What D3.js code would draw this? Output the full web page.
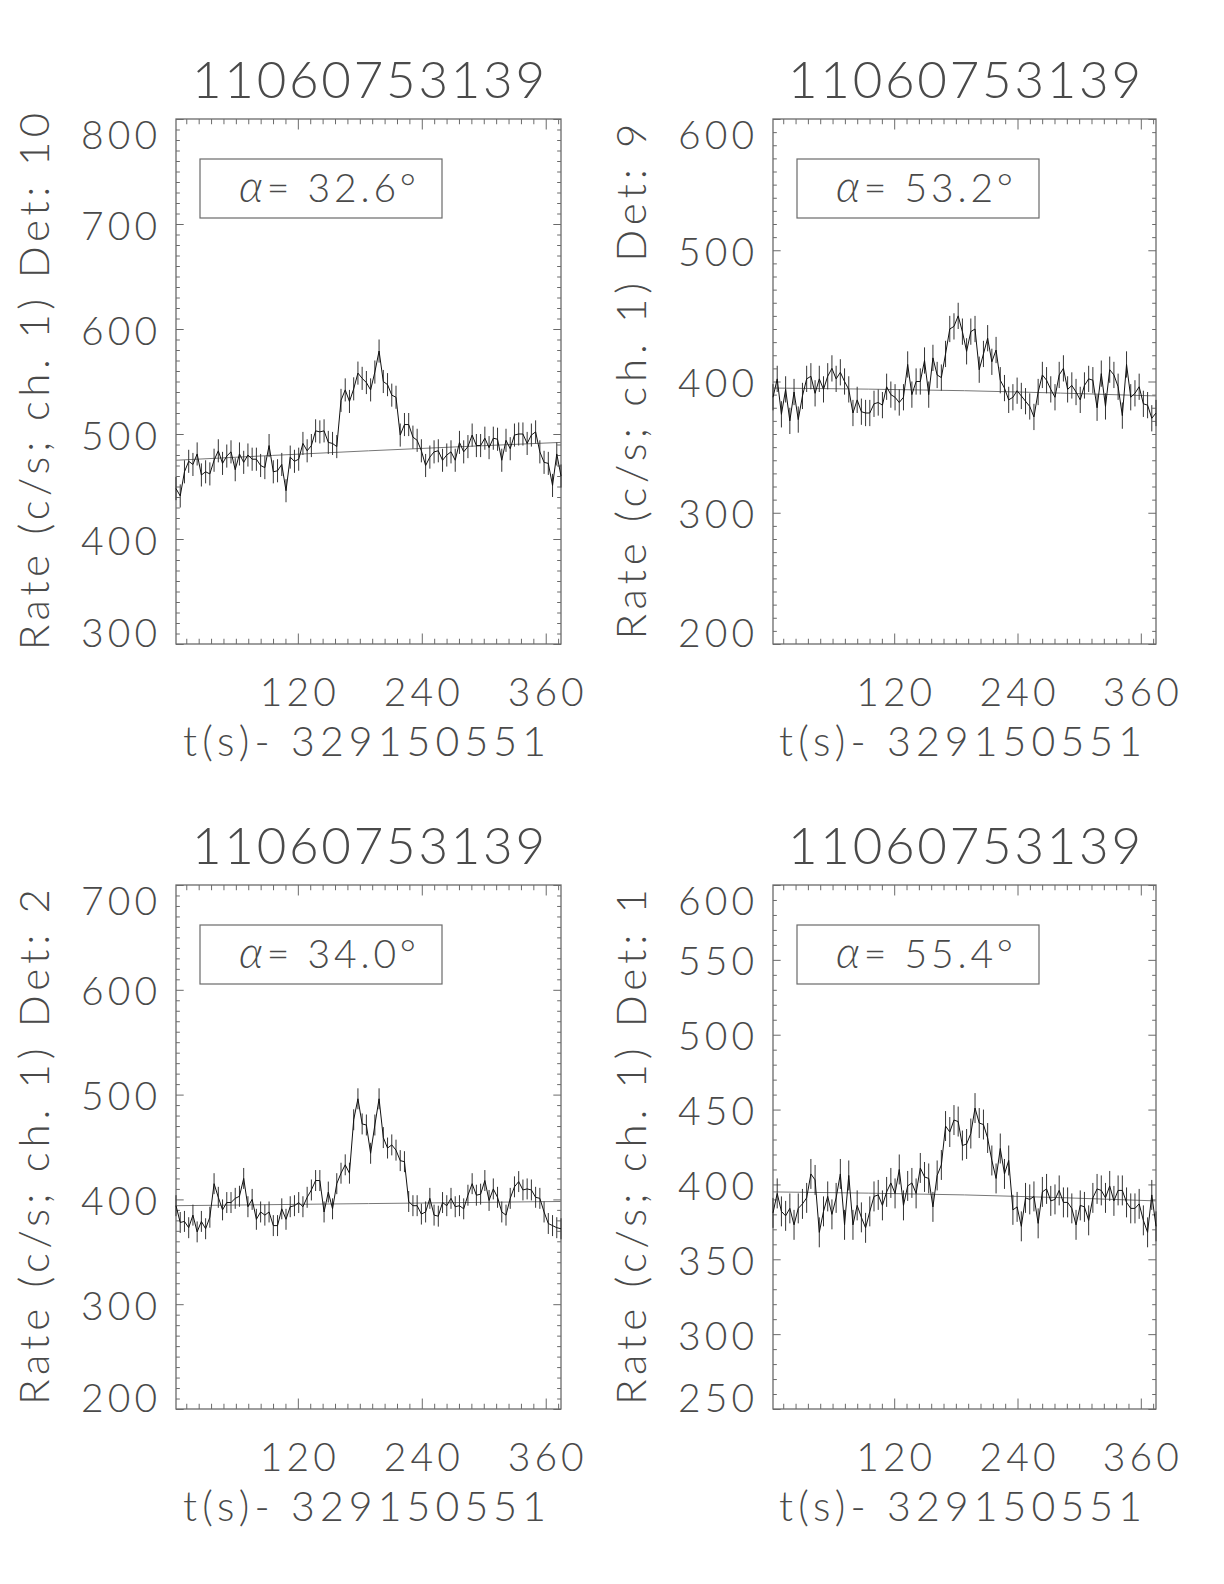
<!DOCTYPE html>
<html><head><meta charset="utf-8">
<script src="https://cdn.jsdelivr.net/npm/d3@7"></script>
<style>
body{margin:0;background:#fff}
svg{display:block}
text{font-family:Lato,"Open Sans","DejaVu Sans",sans-serif;font-weight:300;fill:#4a4a4a}
</style>
</head><body>
<svg id="chart" width="1224" height="1584"></svg>
<script>
// ---------------- data ----------------
const triggerName = "11060753139";
const timeOffset = "329150551";
const detectors = ["10", "9", "2", "1"];
const alphas = ["32.6", "53.2", "34.0", "55.4"];
const binStart = 2.048;      // centre of first 4.096 s bin
const binWidth = 4.096;

const rateDet10 = [448,441,464,474,471,481,461,464,462,475,
  484,472,479,483,466,481,473,480,476,476,
  470,468,489,464,465,471,446,478,474,476,
  491,484,489,503,502,503,492,491,488,532,
  542,531,543,558,553,549,542,559,579,550,
  547,537,535,499,509,509,497,494,484,470,
  478,483,484,475,480,483,475,492,483,488,
  499,489,489,496,487,496,495,475,494,486,
  499,500,500,491,499,502,483,473,472,451,
  481,460];
const rateDet9 = [388,402,375,394,370,392,371,389,402,404,
  391,402,394,404,410,402,407,400,394,376,
  386,377,376,376,383,384,382,396,390,388,
  384,388,413,390,400,400,416,390,418,405,
  403,421,440,442,450,438,423,438,440,409,
  421,433,415,424,401,395,386,388,393,389,
  385,381,373,392,405,401,394,388,405,410,
  394,397,392,386,397,402,401,380,406,381,
  409,405,396,374,413,388,391,396,383,382,
  372,376];
const rateDet2 = [394,378,379,373,385,369,379,372,383,415,
  402,390,397,397,401,403,420,393,400,381,
  388,385,388,375,375,391,381,393,394,397,
  393,402,409,418,418,388,407,391,415,425,
  433,425,476,496,472,471,444,471,496,459,
  449,452,447,437,436,398,394,394,386,388,
  401,385,384,397,394,401,393,394,391,404,
  415,404,405,418,399,410,402,388,385,401,
  412,417,409,410,409,402,401,388,377,375,
  373,372];
const rateDet1 = [381,394,382,379,384,373,384,387,391,407,
  403,368,382,392,380,391,407,373,406,373,
  386,378,371,382,392,393,386,395,401,394,
  410,386,399,401,394,411,405,404,385,406,
  413,439,435,443,442,426,427,434,451,441,
  440,431,416,404,424,407,416,383,385,372,
  391,390,392,374,395,397,389,390,396,388,
  388,384,373,386,385,376,391,397,396,391,
  399,389,396,396,388,384,384,387,376,368,
  393,372];

// background fit: value at first, middle and last bin
const bgDet10 = [475, 484, 492];
const bgDet9  = [395, 393, 389];
const bgDet2  = [394, 396, 398];
const bgDet1  = [395, 393, 389];

// 1-sigma error bar half heights (c/s)
const errDet = [11, 10, 10, 10];

const xTickLabels = [120, 240, 360];
const xMinorStep = 12;
const yTicksDet10 = [300, 400, 500, 600, 700, 800];
const yTicksDet9  = [200, 300, 400, 500, 600];
const yTicksDet2  = [200, 300, 400, 500, 600, 700];
const yTicksDet1  = [250, 300, 350, 400, 450, 500, 550, 600];
const yMinorStep = 10;

const rates = [rateDet10, rateDet9, rateDet2, rateDet1];
const bgs = [bgDet10, bgDet9, bgDet2, bgDet1];
const yTicks = [yTicksDet10, yTicksDet9, yTicksDet2, yTicksDet1];

// ---------------- layout ----------------
const layout = [
  {x0: 176, x1: 561, y0: 119, y1: 644},
  {x0: 773, x1: 1156, y0: 119, y1: 644},
  {x0: 176, x1: 561, y0: 885, y1: 1409},
  {x0: 773, x1: 1156, y0: 885, y1: 1409}
];
const axisColor = "#6a6a6a";

const svg = d3.select("#chart");

layout.forEach((L, p) => {
  const vals = rates[p];
  const times = vals.map((_, i) => binStart + binWidth * i);
  const tMin = times[0], tMax = times[times.length - 1];
  const yt = yTicks[p];
  const x = d3.scaleLinear().domain([tMin, tMax]).range([L.x0, L.x1]);
  const y = d3.scaleLinear().domain([yt[0], yt[yt.length - 1]]).range([L.y1, L.y0]);
  const g = svg.append("g");

  const W = L.x1 - L.x0, H = L.y1 - L.y0;
  const xMajLen = 0.02 * H, yMajLen = 0.02 * W;
  const xMinor = d3.range(xMinorStep, tMax, xMinorStep).filter(v => v >= tMin && !xTickLabels.includes(v));
  const yMinor = d3.range(yt[0], yt[yt.length - 1] + 0.01, yMinorStep).filter(v => !yt.includes(v));

  function addAxis(axisFn, scale, values, len, tr) {
    const a = g.append("g").attr("transform", tr)
      .call(axisFn(scale).tickValues(values).tickSize(-len).tickSizeOuter(0).tickFormat(""));
    a.select(".domain").remove();
    a.selectAll("line").attr("stroke", axisColor).attr("stroke-width", 1);
  }
  addAxis(d3.axisBottom, x, xTickLabels, xMajLen, `translate(0,${L.y1})`);
  addAxis(d3.axisBottom, x, xMinor, xMajLen / 2, `translate(0,${L.y1})`);
  addAxis(d3.axisTop, x, xTickLabels, xMajLen, `translate(0,${L.y0})`);
  addAxis(d3.axisTop, x, xMinor, xMajLen / 2, `translate(0,${L.y0})`);
  addAxis(d3.axisLeft, y, yt, yMajLen, `translate(${L.x0},0)`);
  addAxis(d3.axisLeft, y, yMinor, yMajLen / 2, `translate(${L.x0},0)`);
  addAxis(d3.axisRight, y, yt, yMajLen, `translate(${L.x1},0)`);
  addAxis(d3.axisRight, y, yMinor, yMajLen / 2, `translate(${L.x1},0)`);

  g.append("rect").attr("x", L.x0).attr("y", L.y0).attr("width", W).attr("height", H)
    .attr("fill", "none").attr("stroke", axisColor).attr("stroke-width", 1.3);

  // background fit
  const bgT = [tMin, (tMin + tMax) / 2, tMax];
  g.append("path")
    .datum(bgs[p].map((v, i) => [bgT[i], v]))
    .attr("d", d3.line().x(d => x(d[0])).y(d => y(d[1])).curve(d3.curveMonotoneX))
    .attr("fill", "none").attr("stroke", "#777").attr("stroke-width", 1);

  // error bars
  g.append("g").selectAll("line").data(vals).join("line")
    .attr("x1", (d, i) => x(times[i])).attr("x2", (d, i) => x(times[i]))
    .attr("y1", d => y(d - errDet[p])).attr("y2", d => y(d + errDet[p]))
    .attr("stroke", "#333").attr("stroke-width", 1);

  // light curve
  g.append("path").datum(vals)
    .attr("d", d3.line().x((d, i) => x(times[i])).y(d => y(d)))
    .attr("fill", "none").attr("stroke", "#111").attr("stroke-width", 1);

  // y tick labels
  yt.forEach(v => {
    let b = y(v) + 15.5;
    b = Math.max(L.y0 + 30, Math.min(L.y1 + 3, b));
    g.append("text").attr("x", L.x0 - 19).attr("y", b)
      .attr("text-anchor", "end").attr("font-size", 39)
      .attr("textLength", 25.3 * String(v).length).attr("lengthAdjust", "spacing")
      .text(v);
  });
  // x tick labels
  xTickLabels.forEach(v => {
    g.append("text").attr("x", x(v)).attr("y", L.y1 + 62)
      .attr("text-anchor", "middle").attr("font-size", 39)
      .attr("textLength", 76).attr("lengthAdjust", "spacing")
      .text(v);
  });
  // x title
  g.append("text").attr("x", (L.x0 + L.x1) / 2 - 4).attr("y", L.y1 + 112)
    .attr("text-anchor", "middle").attr("font-size", 41)
    .attr("textLength", 363).attr("lengthAdjust", "spacing")
    .text(`t(s)- ${timeOffset}`);
  // title
  g.append("text").attr("x", (L.x0 + L.x1) / 2).attr("y", L.y0 - 21.5)
    .attr("text-anchor", "middle").attr("font-size", 51)
    .attr("textLength", 353).attr("lengthAdjust", "spacing")
    .text(triggerName);
  // y title
  const yTitle = `Rate (c/s; ch. 1) Det: ${detectors[p]}`;
  const yc = (L.y0 + L.y1) / 2, xb = L.x0 - 127.5;
  g.append("text").attr("transform", `translate(${xb},${yc}) rotate(-90)`)
    .attr("text-anchor", "middle").attr("font-size", 42)
    .attr("textLength", 21.5 * yTitle.length).attr("lengthAdjust", "spacing")
    .text(yTitle);
  // alpha box
  g.append("rect").attr("x", L.x0 + 24).attr("y", L.y0 + 40).attr("width", 242).attr("height", 59)
    .attr("fill", "none").attr("stroke", axisColor).attr("stroke-width", 1.2);
  const at = g.append("text").attr("x", L.x0 + 63).attr("y", L.y0 + 83)
    .attr("font-size", 39).attr("textLength", 177).attr("lengthAdjust", "spacing");
  at.append("tspan").attr("font-style", "italic").attr("font-size", 44).text("α");
  at.append("tspan").text(`= ${alphas[p]}°`);
});
</script>
</body></html>
